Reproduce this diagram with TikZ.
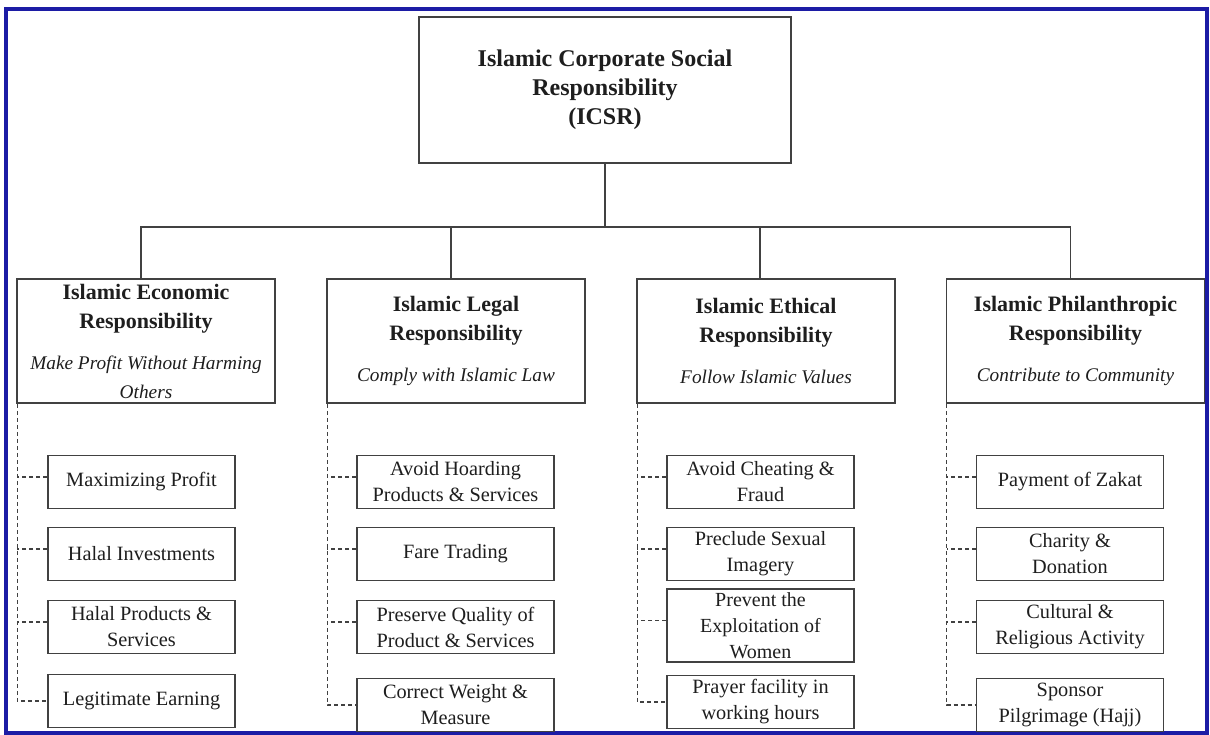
\documentclass[tikz,border=0pt]{standalone}
\usepackage{fontspec}
\setmainfont{Liberation Serif}
\definecolor{frameblue}{RGB}{28,28,165}
\definecolor{linec}{RGB}{65,65,65}
\definecolor{textc}{RGB}{30,30,30}
\newcommand{\itf}{\fontsize{19.3}{24}\selectfont\mdseries\itshape}
\newcommand{\tri}{\fontsize{20}{24}\selectfont}
\tikzset{
  topbox/.style={draw=linec, line width=1.6pt, minimum width=372pt, minimum height=146pt, inner sep=0pt, align=center, text=textc, font=\fontsize{24}{29}\selectfont\bfseries},
  catbox/.style={draw=linec, line width=1.6pt, minimum width=258pt, minimum height=124pt, inner sep=0pt, align=center, text=textc, font=\fontsize{22}{29}\selectfont\bfseries},
  itembox/.style={draw=linec, line width=1.6pt, minimum width=187pt, minimum height=53pt, inner sep=0pt, align=center, text=textc, font=\fontsize{20.3}{26}\selectfont},
  solidlink/.style={draw=linec, line width=1.6pt},
  dashlink/.style={draw=linec, line width=1.4pt, dash pattern=on 4pt off 3pt}
}
\begin{document}
\begin{tikzpicture}[x=1pt,y=-1pt]
\useasboundingbox (0,0) rectangle (1210,734);
\fill[white] (0,0) rectangle (1210,734);
\draw[frameblue, line width=3.5pt] (6,9) rectangle (1207,733);

\node[topbox] (top) at (605,90) {Islamic Corporate Social\\Responsibility\\(ICSR)};

\node[catbox] (econ) at (146,341) {Islamic Economic\\Responsibility\\[12pt]\itf Make Profit Without Harming\\\itf Others};
\node[catbox] (legal) at (456,341) {Islamic Legal\\Responsibility\\[12pt]\itf Comply with Islamic Law};
\node[catbox] (ethic) at (766,341) {Islamic Ethical\\Responsibility\\[12pt]\itf Follow Islamic Values};
\node[catbox] (phil) at (1075.5,341) {Islamic Philanthropic\\Responsibility\\[12pt]\itf Contribute to Community};

\coordinate (bus) at ([yshift=-63pt]top.south);
\draw[solidlink] (top.south) -- (bus);
\draw[solidlink] ([xshift=-5pt]econ.north) |- (bus) -| ([xshift=-5pt]phil.north);
\draw[solidlink] ([xshift=-5pt]legal.north) -- ([xshift=-5pt]legal.north |- bus);
\draw[solidlink] ([xshift=-6pt]ethic.north) -- ([xshift=-6pt]ethic.north |- bus);

% Economic items
\node[itembox] (e1) at (141.5,482) {Maximizing Profit};
\node[itembox] (e2) at (141.5,554) {Halal Investments};
\node[itembox] (e3) at (141.5,627) {Halal Products \&\\Services};
\node[itembox] (e4) at (141.5,701) {Legitimate Earning};
% Legal items
\node[itembox, minimum width=197pt] (l1) at (455.5,482) {Avoid Hoarding\\Products \& Services};
\node[itembox, minimum width=197pt] (l2) at (455.5,554) {Fare Trading};
\node[itembox, minimum width=197pt] (l3) at (455.5,627) {Preserve Quality of\\Product \& Services};
\node[itembox, minimum width=197pt] (l4) at (455.5,705) {Correct Weight \&\\Measure};
% Ethical items
\node[itembox] (t1) at (760.5,482) {Avoid Cheating \&\\Fraud};
\node[itembox] (t2) at (760.5,554) {Preclude Sexual\\Imagery};
\node[itembox, minimum height=73pt] (t3) at (760.5,625.5) {\tri Prevent the\\\tri Exploitation of\\\tri Women};
\node[itembox] (t4) at (760.5,702) {Prayer facility in\\working hours};
% Philanthropic items
\node[itembox] (p1) at (1070,482) {Payment of Zakat};
\node[itembox] (p2) at (1070,554) {Charity \&\\Donation};
\node[itembox] (p3) at (1070,627) {Cultural \&\\Religious Activity};
\node[itembox] (p4) at (1070,705) {Sponsor\\Pilgrimage (Hajj)};

% dashed connectors
\coordinate (ev) at ([xshift=1pt]econ.south west);
\coordinate (lv) at ([xshift=1pt]legal.south west);
\coordinate (tv) at ([xshift=1pt]ethic.south west);
\coordinate (pv) at ([xshift=1pt]phil.south west);
\draw[dashlink] (ev) |- (e4.west);
\draw[dashlink] (lv) |- (l4.west);
\draw[dashlink] (tv) |- (t4.west);
\draw[dashlink] (pv) |- (p4.west);
\foreach \n/\v in {e1/ev,e2/ev,e3/ev,l1/lv,l2/lv,l3/lv,t1/tv,t2/tv,t3/tv,p1/pv,p2/pv,p3/pv}{
  \draw[dashlink] ([yshift=5pt]\n.west) -- ([yshift=5pt]\n.west -| \v);
}
\end{tikzpicture}
\end{document}
